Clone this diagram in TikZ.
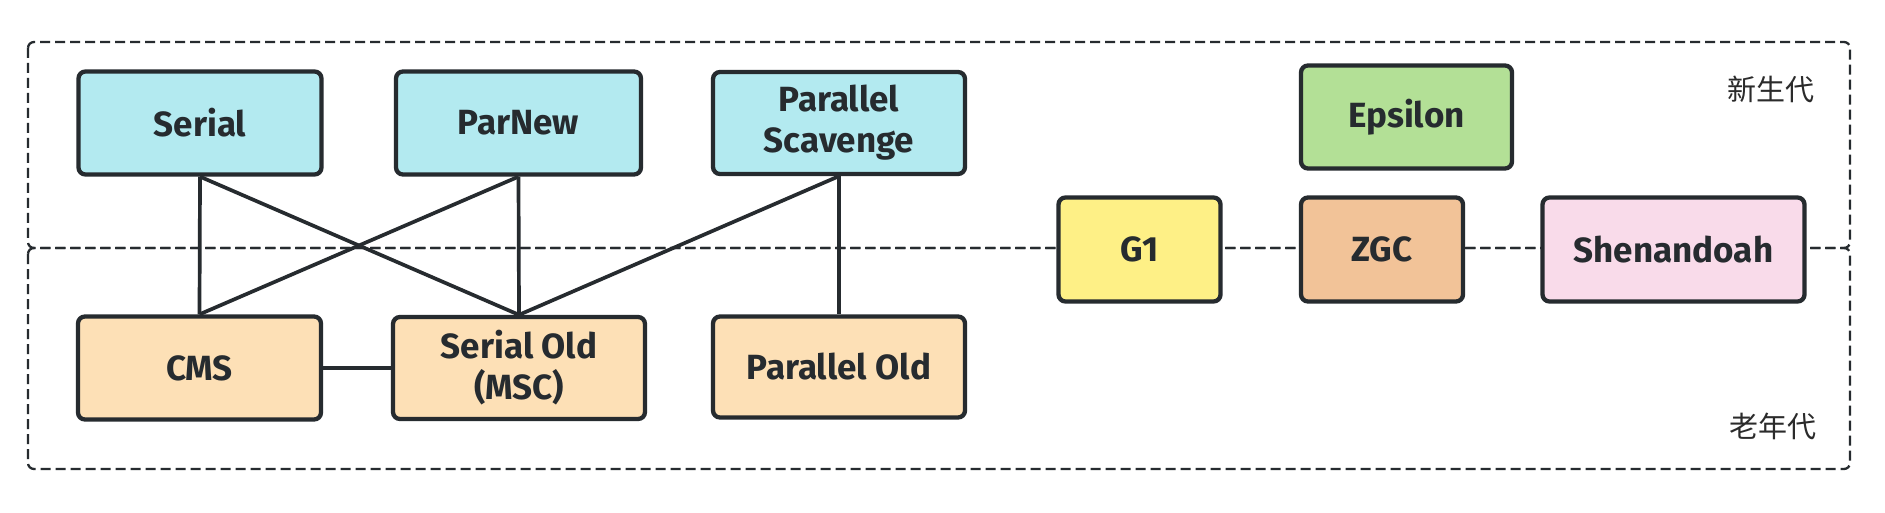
\documentclass[tikz,border=0pt]{standalone}
\usepackage{fontspec}
\setmainfont{Fira Sans}
\newfontfamily\cjk{Noto Sans CJK SC}
\definecolor{ink}{HTML}{262B2F}
\definecolor{cyanf}{HTML}{B3EAF0}
\definecolor{orangef}{HTML}{FDE0B6}
\definecolor{greenf}{HTML}{B3E096}
\definecolor{yellowf}{HTML}{FEF086}
\definecolor{zgcf}{HTML}{F2C398}
\definecolor{pinkf}{HTML}{F9DBEA}
\definecolor{lbl}{HTML}{2B2B2B}
\tikzset{
  gcbox/.style={draw=ink, line width=4.3pt, rounded corners=7pt, text=ink, align=center,
    inner sep=0pt, font=\fontsize{35}{41}\selectfont\bfseries},
  conn/.style={draw=ink, line width=3.7pt},
  zone/.style={draw=ink, line width=2.3pt, dash pattern=on 10pt off 5pt, rounded corners=6pt},
  zonelbl/.style={text=lbl, font=\cjk\fontsize{29}{34}\selectfont}
}
\begin{document}
\begin{tikzpicture}[x=1pt,y=-1pt]
\useasboundingbox (0,0) rectangle (1885,513);
\fill[white] (0,0) rectangle (1885,513);
% zones
\draw[zone] (28,42) rectangle (1850,248);
\draw[zone] (28,248) rectangle (1850,469);
\node[zonelbl] (young) at (1771,89) {新生代};
\node[zonelbl] (old) at (1773,426) {老年代};
% young gen
\node[gcbox, fill=cyanf, minimum width=243pt, minimum height=103pt] (serial) at (200,123) {Serial};
\node[gcbox, fill=cyanf, minimum width=245pt, minimum height=103pt] (parnew) at (518.5,123) {ParNew};
\node[gcbox, fill=cyanf, minimum width=252pt, minimum height=102pt] (ps) at (839,123) {Parallel\\Scavenge};
% old gen
\node[gcbox, fill=orangef, minimum width=243pt, minimum height=103pt] (cms) at (199.5,368) {CMS};
\node[gcbox, fill=orangef, minimum width=252pt, minimum height=102pt] (so) at (519,368) {Serial Old\\(MSC)};
\node[gcbox, fill=orangef, minimum width=252pt, minimum height=101pt] (po) at (839,367) {Parallel Old};
% whole heap
\node[gcbox, fill=greenf, minimum width=211pt, minimum height=103pt] (eps) at (1406.5,117) {Epsilon};
\node[gcbox, fill=yellowf, minimum width=162pt, minimum height=104pt] (g1) at (1139.5,249.5) {G1};
\node[gcbox, fill=zgcf, minimum width=162pt, minimum height=104pt] (zgc) at (1382,249.5) {ZGC};
\node[gcbox, fill=pinkf, minimum width=262pt, minimum height=104pt] (shen) at (1673.5,249.5) {Shenandoah};
% connectors
\draw[conn] (serial.south) -- (cms.north);
\draw[conn] (serial.south) -- (so.north);
\draw[conn] (parnew.south) -- (cms.north);
\draw[conn] (parnew.south) -- (so.north);
\draw[conn] (ps.south) -- (so.north);
\draw[conn] (ps.south) -- (po.north);
\draw[conn] (cms.east) -- (so.west);
\end{tikzpicture}
\end{document}
